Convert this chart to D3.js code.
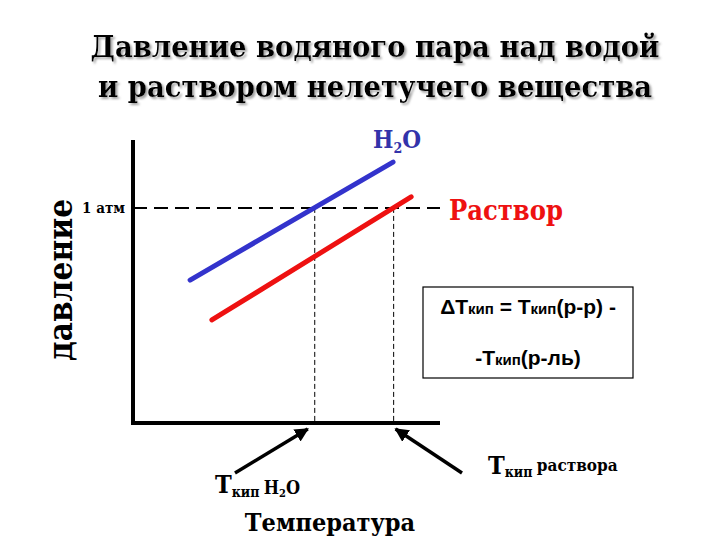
<!DOCTYPE html>
<html>
<head>
<meta charset="utf-8">
<script src="https://cdn.jsdelivr.net/npm/d3@7"></script>
<style>
  body { margin: 0; background: white; }
</style>
</head>
<body>
<div id="container"></div>
<script>
let w = 720;
let h = 540;

// вода и раствор: температура / давление (условные единицы)
let waterT = [18.6, 84.7];
let waterP = [50.5, 92.2];
let solutionT = [25.7, 90.6];
let solutionP = [36.4, 79.9];
let atmP = 76;
let boilT = [59.2, 84.9];
let titleLines = ["Давление водяного пара над водой", "и раствором нелетучего вещества"];

let x = d3.scaleLinear().domain([0, 100]).range([133, 440]);
let y = d3.scaleLinear().domain([0, 100]).range([423, 140]);

let viz = d3.select("#container")
  .append("svg")
  .attr("width", w)
  .attr("height", h)
  .style("background-color", "white");

let serif = "DejaVu Serif Condensed, DejaVu Serif";
let sans = "Liberation Sans";

let defs = viz.append("defs");
defs.append("filter")
  .attr("id", "shadow")
  .attr("x", "-5%").attr("y", "-20%").attr("width", "110%").attr("height", "140%")
  .append("feDropShadow")
  .attr("dx", 2).attr("dy", 2).attr("stdDeviation", 0.8)
  .attr("flood-color", "#999").attr("flood-opacity", 0.9);

// заголовок с тенью
titleLines.forEach(function (t, i) {
  viz.append("text")
    .attr("x", 375).attr("y", 57 + i * 40)
    .attr("text-anchor", "middle")
    .attr("font-family", serif).attr("font-weight", "bold")
    .attr("font-stretch", "condensed")
    .attr("font-size", 30.5).attr("fill", "black")
    .attr("filter", "url(#shadow)")
    .text(t);
});

// пунктир 1 атм
viz.append("line")
  .attr("x1", x(0)).attr("x2", x(100))
  .attr("y1", y(atmP)).attr("y2", y(atmP))
  .attr("stroke", "black").attr("stroke-width", 2)
  .attr("stroke-dasharray", "14,7");

// вертикальные пунктиры
viz.selectAll(".vdash")
  .data(boilT)
  .enter().append("line")
  .attr("class", "vdash")
  .attr("x1", d => x(d)).attr("x2", d => x(d))
  .attr("y1", y(atmP)).attr("y2", y(0))
  .attr("stroke", "black").attr("stroke-width", 1)
  .attr("stroke-dasharray", "5,3");

// оси
viz.append("line")
  .attr("x1", x(0)).attr("x2", x(0))
  .attr("y1", y(100)).attr("y2", y(0) + 2)
  .attr("stroke", "black").attr("stroke-width", 4);
viz.append("line")
  .attr("x1", x(0) - 2).attr("x2", x(100))
  .attr("y1", y(0)).attr("y2", y(0))
  .attr("stroke", "black").attr("stroke-width", 4);

// линии давления
let line = d3.line().x(d => x(d[0])).y(d => y(d[1]));
viz.append("path")
  .attr("d", line(d3.zip(waterT, waterP)))
  .attr("stroke", "#3333cc").attr("stroke-width", 5)
  .attr("stroke-linecap", "round").attr("fill", "none");
viz.append("path")
  .attr("d", line(d3.zip(solutionT, solutionP)))
  .attr("stroke", "#ee1111").attr("stroke-width", 5)
  .attr("stroke-linecap", "round").attr("fill", "none");

// подписи
viz.append("text")
  .attr("x", 125).attr("y", y(atmP) + 5)
  .attr("text-anchor", "end")
  .attr("font-family", serif).attr("font-weight", "bold")
  .attr("font-stretch", "condensed")
  .attr("font-size", 15).text("1 атм");

viz.append("text")
  .attr("transform", "translate(72,280) rotate(-90)")
  .attr("text-anchor", "middle")
  .attr("font-family", serif).attr("font-weight", "bold")
  .attr("font-stretch", "condensed")
  .attr("font-size", 33).text("давление");

let h2o = viz.append("text")
  .attr("x", 373).attr("y", 148)
  .attr("font-family", serif).attr("font-weight", "bold")
  .attr("font-stretch", "condensed")
  .attr("font-size", 24).attr("fill", "#3333aa");
h2o.append("tspan").text("H");
h2o.append("tspan").attr("font-size", 14).attr("dy", 5).text("2");
h2o.append("tspan").attr("dy", -5).text("O");

viz.append("text")
  .attr("x", 449).attr("y", 220)
  .attr("font-family", serif).attr("font-weight", "bold")
  .attr("font-stretch", "condensed")
  .attr("font-size", 27).attr("fill", "#ee1111").text("Раствор");

// рамка с формулой
viz.append("rect")
  .attr("x", 423).attr("y", 287)
  .attr("width", 210).attr("height", 91)
  .attr("fill", "white").attr("stroke", "black").attr("stroke-width", 1.2);

let f1 = viz.append("text")
  .attr("x", 528).attr("y", 314)
  .attr("text-anchor", "middle")
  .attr("font-family", sans).attr("font-weight", "bold")
  .attr("font-size", 21);
f1.append("tspan").text("ΔT");
f1.append("tspan").attr("font-size", 15).text("кип");
f1.append("tspan").text(" = T");
f1.append("tspan").attr("font-size", 15).text("кип");
f1.append("tspan").text("(р-р) -");

let f2 = viz.append("text")
  .attr("x", 528).attr("y", 365)
  .attr("text-anchor", "middle")
  .attr("font-family", sans).attr("font-weight", "bold")
  .attr("font-size", 21);
f2.append("tspan").text("-T");
f2.append("tspan").attr("font-size", 15).text("кип");
f2.append("tspan").text("(р-ль)");

// стрелки
defs.append("marker")
  .attr("id", "arr")
  .attr("viewBox", "0 0 10 10")
  .attr("refX", 9).attr("refY", 5)
  .attr("markerWidth", 4).attr("markerHeight", 4)
  .attr("orient", "auto")
  .append("path").attr("d", "M0,0 L10,5 L0,10 Z").attr("fill", "black");

viz.append("line")
  .attr("x1", 235).attr("y1", 473)
  .attr("x2", x(boilT[0]) - 7).attr("y2", 429)
  .attr("stroke", "black").attr("stroke-width", 3.5)
  .attr("marker-end", "url(#arr)");
viz.append("line")
  .attr("x1", 462).attr("y1", 473)
  .attr("x2", x(boilT[1]) + 2).attr("y2", 429)
  .attr("stroke", "black").attr("stroke-width", 3.5)
  .attr("marker-end", "url(#arr)");

let t1 = viz.append("text")
  .attr("x", 215).attr("y", 493)
  .attr("font-family", serif).attr("font-weight", "bold")
  .attr("font-stretch", "condensed")
  .attr("font-size", 25);
t1.append("tspan").text("T");
t1.append("tspan").attr("font-size", 14).attr("dy", 4).text("кип ");
t1.append("tspan").attr("font-size", 18).attr("dy", -3).text("H");
t1.append("tspan").attr("font-size", 11).attr("dy", 3).text("2");
t1.append("tspan").attr("font-size", 18).attr("dy", -3).text("O");

let t2 = viz.append("text")
  .attr("x", 488).attr("y", 474)
  .attr("font-family", serif).attr("font-weight", "bold")
  .attr("font-stretch", "condensed")
  .attr("font-size", 25);
t2.append("tspan").text("T");
t2.append("tspan").attr("font-size", 14).attr("dy", 3).text("кип ");
t2.append("tspan").attr("font-size", 17).attr("dy", -6).text("раствора");

viz.append("text")
  .attr("x", 330).attr("y", 531)
  .attr("text-anchor", "middle")
  .attr("font-family", serif).attr("font-weight", "bold")
  .attr("font-stretch", "condensed")
  .attr("font-size", 25).text("Температура");
</script>
</body>
</html>
